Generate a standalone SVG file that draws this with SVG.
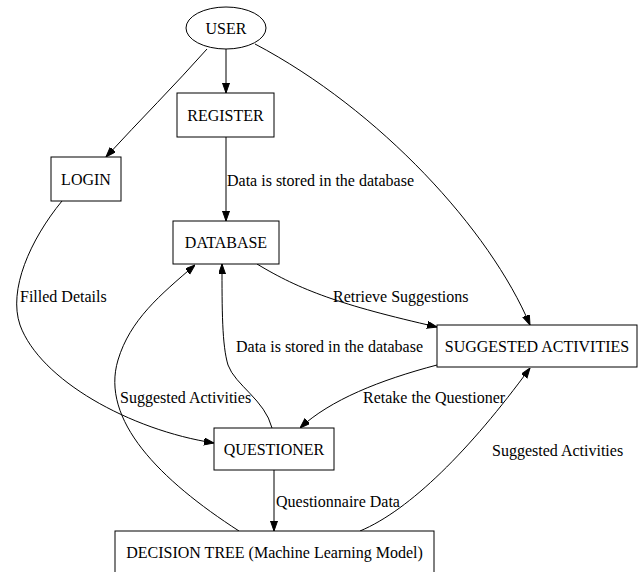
<svg xmlns="http://www.w3.org/2000/svg" width="643" height="572" viewBox="0 0 643 572">
<style>
.n{fill:#fff;stroke:#000;stroke-width:1}
.t{font-family:"Liberation Serif","Times New Roman",serif;font-size:16px;fill:#000}
.m{text-anchor:middle}
.e{fill:none;stroke:#000;stroke-width:1;marker-end:url(#a)}
</style>
<defs>
<marker id="a" markerUnits="userSpaceOnUse" markerWidth="10" markerHeight="8" refX="10" refY="3.5" orient="auto">
<path d="M0,0 L10,3.5 L0,7 z" fill="#000" stroke="#000"/>
</marker>
</defs>
<rect width="643" height="572" fill="#fff"/>
<g id="edges">
<path class="e" d="M226,49 L226,93"/>
<path class="e" d="M207,49 C175,85 140,120 106,157"/>
<path class="e" d="M255,44 C380,110 490,230 530,325"/>
<path class="e" d="M226,137 L226,221"/>
<path class="e" d="M62,201 C30,240 8,290 20,325 C40,380 130,430 214,443"/>
<path class="e" d="M257,264 C300,290 340,305 437,327"/>
<path class="e" d="M272,428 C265,400 235,385 228,365 C222,345 222,310 222,264"/>
<path class="e" d="M239,531 C160,480 100,420 118,360 C130,320 160,295 195,265"/>
<path class="e" d="M437,365 C380,380 330,400 300,428"/>
<path class="e" d="M274,470 L274,531"/>
<path class="e" d="M360,531 C410,510 470,450 530,368"/>
</g>
<g id="labels">
<text class="t" x="227" y="185.5">Data is stored in the database</text>
<text class="t" x="20" y="301.5">Filled Details</text>
<text class="t" x="333" y="301.5">Retrieve Suggestions</text>
<text class="t" x="236" y="351.5">Data is stored in the database</text>
<text class="t" x="120" y="402.5">Suggested Activities</text>
<text class="t" x="363" y="402.5">Retake the Questioner</text>
<text class="t" x="492" y="455.5">Suggested Activities</text>
<text class="t" x="276" y="506.5">Questionnaire Data</text>
</g>
<g id="user"><ellipse class="n" cx="226" cy="28" rx="40" ry="21"/><text class="t m" x="226" y="33.5">USER</text></g>
<g id="register"><rect class="n" x="177" y="93" width="97" height="44"/><text class="t m" x="225.5" y="120.5">REGISTER</text></g>
<g id="login"><rect class="n" x="51" y="157" width="70" height="44"/><text class="t m" x="86" y="184.5">LOGIN</text></g>
<g id="database"><rect class="n" x="173" y="221" width="106" height="43"/><text class="t m" x="226" y="248">DATABASE</text></g>
<g id="suggested"><rect class="n" x="437" y="325" width="200" height="42"/><text class="t m" x="537" y="351.5">SUGGESTED ACTIVITIES</text></g>
<g id="questioner"><rect class="n" x="214" y="428" width="120" height="42"/><text class="t m" x="274" y="454.5">QUESTIONER</text></g>
<g id="decision"><rect class="n" x="115" y="531" width="319" height="44"/><text class="t m" x="274.5" y="557.5">DECISION TREE (Machine Learning Model)</text></g>
</svg>
